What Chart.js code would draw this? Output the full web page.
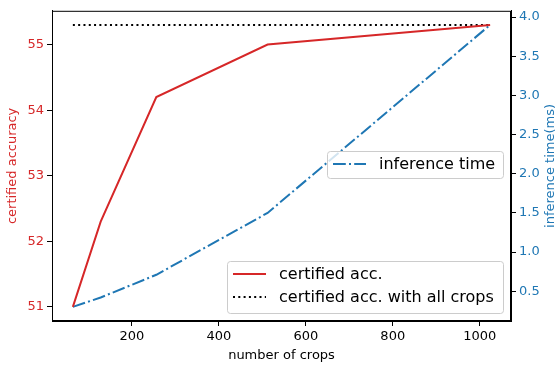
<!DOCTYPE html>
<html lang="en">
<head>
  <meta charset="UTF-8">
  <title>Certified accuracy vs number of crops</title>
  <script src="https://cdn.jsdelivr.net/npm/chart.js"></script>
  <style>
    html, body { margin: 0; padding: 0; background: #fff; }
    #chart { display: block; }
  </style>
</head>
<body>
  <canvas id="chart" width="558" height="366"></canvas>
  <script>
    // data
    const crops = [64, 128, 256, 512, 1024];
    const certAcc = [51.0, 52.3, 54.2, 55.0, 55.3];
    const certAccAll = [55.3, 55.3];
    const certAccAllCrops = [64, 1024];
    const inferTime = [0.3, 0.42, 0.71, 1.5, 3.9];
    const xTicks = [200, 400, 600, 800, 1000];
    const accTicks = [51, 52, 53, 54, 55];
    const timeTicks = [0.5, 1.0, 1.5, 2.0, 2.5, 3.0, 3.5, 4.0];

    const RED = '#d62728';
    const BLUE = '#1f77b4';
    const FONT = "'DejaVu Sans', sans-serif";
    const DOT = [2, 3.3];
    const DASHDOT = [12.8, 3.2, 2, 3.2];

    const pts = (xs, ys) => xs.map((x, i) => ({ x: x, y: ys[i] }));

    // two matplotlib-style legends, the full frame, right axis title
    const extras = {
      id: 'extras',
      afterDraw(chart) {
        const ctx = chart.ctx;
        const a = chart.chartArea;
        ctx.save();
        ctx.strokeStyle = '#000';
        ctx.lineWidth = 1;
        ctx.strokeRect(a.left + 0.5, a.top + 0.5, a.right - a.left - 1, a.bottom - a.top - 1);

        // right axis title, reading bottom to top like matplotlib
        ctx.save();
        ctx.translate(551, (a.top + a.bottom) / 2);
        ctx.rotate(-Math.PI / 2);
        ctx.fillStyle = BLUE;
        ctx.font = '13px ' + FONT;
        ctx.textAlign = 'center';
        ctx.textBaseline = 'middle';
        ctx.fillText('inference time(ms)', 0, 0);
        ctx.restore();

        function box(x0, y0, x1, y1) {
          ctx.beginPath();
          ctx.roundRect(x0 + 0.5, y0 + 0.5, x1 - x0, y1 - y0, 3);
          ctx.fillStyle = 'rgba(255,255,255,0.8)';
          ctx.fill();
          ctx.strokeStyle = '#cccccc';
          ctx.lineWidth = 1;
          ctx.stroke();
        }
        function entry(x, y, color, dash, label) {
          ctx.beginPath();
          ctx.setLineDash(dash);
          ctx.strokeStyle = color;
          ctx.lineWidth = 2;
          ctx.moveTo(x, y);
          ctx.lineTo(x + 33, y);
          ctx.stroke();
          ctx.setLineDash([]);
          ctx.fillStyle = '#000';
          ctx.font = '16px ' + FONT;
          ctx.textAlign = 'left';
          ctx.textBaseline = 'middle';
          ctx.fillText(label, x + 46, y + 1);
        }

        box(227, 261, 503, 313);
        entry(233, 274, RED, [], 'certified acc.');
        entry(233, 297, '#000', DOT, 'certified acc. with all crops');

        box(327, 151, 503, 178);
        entry(333, 164, BLUE, DASHDOT, 'inference time');
        ctx.restore();
      }
    };

    new Chart(document.getElementById('chart').getContext('2d'), {
      type: 'line',
      data: {
        datasets: [
          {
            label: 'certified acc.',
            data: pts(crops, certAcc),
            yAxisID: 'yAcc',
            borderColor: RED,
            borderWidth: 2,
            pointRadius: 0,
            tension: 0
          },
          {
            label: 'certified acc. with all crops',
            data: pts(certAccAllCrops, certAccAll),
            yAxisID: 'yAcc',
            borderColor: '#000',
            borderWidth: 2,
            borderDash: DOT,
            pointRadius: 0
          },
          {
            label: 'inference time',
            data: pts(crops, inferTime),
            yAxisID: 'yTime',
            borderColor: BLUE,
            borderWidth: 2,
            borderDash: DASHDOT,
            pointRadius: 0
          }
        ]
      },
      options: {
        responsive: false,
        animation: false,
        layout: { padding: { top: 8, left: 0, right: 0, bottom: 0 } },
        plugins: { legend: { display: false }, tooltip: { enabled: false } },
        scales: {
          x: {
            type: 'linear',
            min: 16,
            max: 1072,
            afterBuildTicks: s => { s.ticks = xTicks.map(v => ({ value: v })); },
            afterFit: s => { s.height = 45; },
            grid: { drawOnChartArea: false, color: '#000', tickLength: 5, tickWidth: 1 },
            border: { color: '#000', width: 1 },
            ticks: { color: '#000', font: { family: FONT, size: 13 }, padding: 3, maxRotation: 0, callback: v => String(v) },
            title: { display: true, text: 'number of crops', color: '#000', font: { family: FONT, size: 13 }, padding: { top: 0, bottom: 3 } }
          },
          yAcc: {
            type: 'linear',
            position: 'left',
            min: 50.785,
            max: 55.515,
            afterBuildTicks: s => { s.ticks = accTicks.map(v => ({ value: v })); },
            afterFit: s => { s.width = 52; },
            grid: { drawOnChartArea: false, color: '#000', tickLength: 5, tickWidth: 1 },
            border: { color: '#000', width: 1 },
            ticks: { color: RED, font: { family: FONT, size: 13 }, padding: 3 },
            title: { display: true, text: 'certified accuracy', color: RED, font: { family: FONT, size: 13 }, padding: { top: 5, bottom: 0 } }
          },
          yTime: {
            type: 'linear',
            position: 'right',
            min: 0.12,
            max: 4.08,
            afterBuildTicks: s => { s.ticks = timeTicks.map(v => ({ value: v })); },
            afterFit: s => { s.width = 47; },
            grid: { drawOnChartArea: false, color: '#000', tickLength: 5, tickWidth: 1 },
            border: { color: '#000', width: 1 },
            ticks: { color: BLUE, font: { family: FONT, size: 13 }, padding: 3, callback: v => v.toFixed(1) },
            title: { display: false }
          }
        }
      },
      plugins: [extras]
    });
  </script>
</body>
</html>
